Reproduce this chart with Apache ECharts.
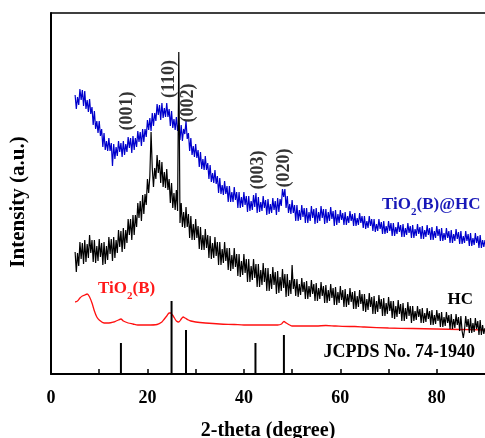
<!DOCTYPE html>
<html>
<head>
<meta charset="utf-8">
<script src="https://cdn.jsdelivr.net/npm/echarts@6/dist/echarts.min.js"></script>
<style>html,body{margin:0;padding:0;background:#fff;}#c{width:485px;height:438px;}</style>
</head>
<body>
<div id="c"></div>
<script>
// sampling grid of the measured patterns (2-theta, degree)
const thetaStart = 5;
const thetaStep = 0.25;

// TiO2(B)@HC (blue), intensity a.u., one value per 0.25 degree from 5 to 90
const tio2HcValues = [
279,265,277,269, 285,274,284,268, 283,265,274,262, 275,260,267,249, 263,245,253,241,
253,238,245,227, 241,224,233,223, 236,223,231,208, 230,215,227,218, 233,222,231,217,
233,219,230,222, 237,226,236,221, 238,224,236,227, 243,232,242,228, 245,232,245,237,
254,244,256,243, 261,248,261,253, 270,259,269,254, 271,256,266,257, 271,257,265,248,
263,246,255,244, 257,243,251,234, 249,233,245,240, 253,235,241,223, 236,219,228,217,
230,216,224,207, 222,205,215,204, 218,204,211,195, 209,192,201,191, 204,190,198,181,
196,180,189,179, 193,180,188,172, 188,172,182,172, 187,174,182,166, 182,166,177,167,
182,169,178,162, 178,163,173,164, 179,167,181,161, 177,162,172,163, 178,166,174,159,
175,160,170,161, 176,164,173,159, 176,162,175,168, 185,177,185,166, 178,161,170,160,
174,161,169,153, 169,153,164,154, 169,157,166,151, 166,151,162,153, 168,156,165,150,
166,151,162,153, 168,156,165,150, 165,151,162,153, 167,155,163,148, 164,149,160,151,
164,154,161,149, 162,149,158,151, 163,153,160,148, 161,148,156,149, 161,151,158,146,
158,145,153,146, 158,148,155,143, 155,142,150,143, 155,145,152,140, 153,140,148,141,
153,143,151,138, 151,138,147,140, 152,142,149,137, 150,137,146,139, 151,141,148,136,
149,136,145,138, 150,140,147,135, 148,135,144,137, 149,139,146,134, 147,134,143,136,
148,138,145,133, 146,133,141,134, 146,136,143,131, 144,131,140,133, 145,135,142,130,
143,130,138,131, 143,133,140,128, 141,128,136,129, 141,131,138,126, 139,126,134,127,
134
];

// HC (black), same sampling
const hcValues = [
122,102,121,108, 132,115,131,110, 134,112,130,116, 139,121,134,112, 134,111,128,113,
135,117,131,109, 132,110,128,114, 137,120,135,113, 137,116,134,121, 144,127,143,122,
146,125,144,131, 155,139,155,134, 159,139,159,147, 171,156,173,153, 179,160,180,169,
195,181,198,242, 206,187,206,195, 219,201,214,191, 212,187,202,186, 205,184,195,171,
191,166,181,164, 184,163,322,151, 171,147,162,146, 167,147,160,136, 158,134,150,134,
155,136,148,125, 147,124,139,124, 145,126,139,116, 138,115,131,116, 137,118,132,109,
132,109,125,111, 132,113,126,104, 126,103,119,105, 126,107,120,98, 120,97,113,99,
120,101,115,92, 115,92,108,94, 115,96,110,87, 110,87,104,89, 111,92,106,83,
106,83,100,85, 107,89,102,80, 103,81,97,83, 105,86,100,77, 100,78,94,80,
109,85,95,78, 95,77,90,79, 96,82,92,75, 93,75,88,77, 94,80,90,73,
91,73,86,75, 92,78,88,71, 89,71,84,73, 90,76,86,69, 87,69,82,71,
88,74,84,67, 85,67,80,69, 86,72,82,65, 83,65,78,67, 84,70,80,63,
80,62,75,64, 81,67,77,60, 78,60,73,62, 79,65,75,58, 76,58,71,60,
77,63,73,56, 73,55,68,57, 74,60,70,53, 71,53,66,55, 72,58,68,51,
68,53,63,54, 68,57,65,51, 66,51,61,52, 66,55,63,49, 64,49,59,50,
64,53,61,47, 62,47,57,48, 62,51,59,45, 60,45,55,46, 60,49,57,43,
58,43,36,44, 58,47,55,41, 56,41,51,42, 56,45,53,39, 54,39,49,40,
46
];

// TiO2(B) (red)
const tio2Theta = [5,5.5,6,6.5,7,7.5,8,8.5,9,9.5,10,11,12,13,13.5,14,14.5,15,16,17,18,20,22,23,23.5,24,24.5,24.8,25.2,25.6,26,26.5,27,27.4,27.8,28.5,29,30,32,35,38,40,42,45,47,47.8,48.3,48.8,49.5,50,53,55,57,59,62,63,65,70,75,80,85,90];
const tio2Values = [72,73,76,78,79,80,77,71,63,57,54,51,51,52,53,54,55,53,51,50,49,49,49.5,52,55,58,61,61,59,56,53,52,55,57,56,54,53,52,51,50,49.5,49,49,49,49,50,52.5,51,49,48,48,48,48.5,48,47.5,47.5,47,46,45.5,45,44.5,44];

// JCPDS No. 74-1940 reference sticks
const jcpdsTheta = [14.5, 25.0, 28.0, 42.4, 48.3];
const jcpdsHeight = [31, 73, 44, 31, 39];

// (hkl) annotations
const hklText = ['(001)', '(110)', '(002)', '(003)', '(020)'];
const hklTheta = [15.9, 24.6, 28.5, 43.0, 48.3];
const hklLevel = [263, 295, 271, 204, 206];

const xMin = 0, xMax = 90, xTickStep = 10, xLabelStep = 20;

const toPairs = (vals) => vals.map((v, i) => [thetaStart + i * thetaStep, v]);
const serif = '"Liberation Serif", "Times New Roman", serif';

const chart = echarts.init(document.getElementById('c'), null, {renderer: 'canvas'});
chart.setOption({
  animation: false,
  backgroundColor: '#fff',
  grid: {left: 51, right: 0, top: 13, bottom: 64, containLabel: false, outerBoundsMode: 'none'},
  xAxis: [{
    type: 'value', min: xMin, max: xMax, interval: xTickStep,
    name: '2-theta (degree)', nameLocation: 'middle', nameGap: 47,
    nameTextStyle: {fontFamily: serif, fontWeight: 'bold', fontSize: 20, color: '#000'},
    axisLine: {show: true, onZero: false, lineStyle: {color: '#000', width: 2}},
    axisTick: {show: true, inside: true, length: 5, lineStyle: {color: '#000', width: 1.5}},
    axisLabel: {
      fontFamily: serif, fontWeight: 'bold', fontSize: 18, color: '#000', margin: 15,
      showMaxLabel: false,
      formatter: (v) => (v % xLabelStep === 0 ? String(v) : '')
    },
    splitLine: {show: false}
  }, {
    type: 'value', position: 'top', min: xMin, max: xMax,
    axisLine: {show: true, onZero: false, lineStyle: {color: '#000', width: 1.5}},
    axisTick: {show: false}, axisLabel: {show: false}, splitLine: {show: false}
  }],
  yAxis: {
    type: 'value', min: 0, max: 361,
    axisLine: {show: true, onZero: false, lineStyle: {color: '#000', width: 2}},
    axisTick: {show: false}, axisLabel: {show: false}, splitLine: {show: false}
  },
  series: [
    {
      name: 'TiO2(B)@HC', type: 'line', data: toPairs(tio2HcValues), showSymbol: false, symbol: 'none',
      lineStyle: {color: '#0000cc', width: 1.2}, z: 2
    },
    {
      name: 'TiO2(B)', type: 'line', data: tio2Theta.map((t, i) => [t, tio2Values[i]]), showSymbol: false, symbol: 'none',
      smooth: 0.3, lineStyle: {color: '#ff1010', width: 1.3}, z: 3
    },
    {
      name: 'HC', type: 'line', data: toPairs(hcValues), showSymbol: false, symbol: 'none',
      lineStyle: {color: '#000', width: 1.2}, z: 4
    },
    {
      name: 'JCPDS', type: 'custom', z: 5,
      data: jcpdsTheta.map((t, i) => [t, jcpdsHeight[i]]),
      renderItem: (params, api) => {
        const p0 = api.coord([api.value(0), 0]);
        const p1 = api.coord([api.value(0), api.value(1)]);
        return {type: 'line', shape: {x1: p0[0], y1: p0[1], x2: p1[0], y2: p1[1]}, style: {stroke: '#000', lineWidth: 2}};
      }
    },
    {
      name: 'hkl', type: 'scatter', symbolSize: 1, itemStyle: {color: 'rgba(0,0,0,0)'}, z: 6,
      data: hklTheta.map((t, i) => ({value: [t, hklLevel[i]], name: hklText[i]})),
      label: {
        show: true, position: 'inside', rotate: 90, formatter: (p) => p.name,
        fontFamily: serif, fontWeight: 'bold', fontSize: 18, color: '#000'
      }
    }
  ],
  graphic: [
    {type: 'text', x: 19, y: 202, rotation: Math.PI / 2,
      style: {text: 'Intensity (a.u.)', font: 'bold 21px ' + serif, fill: '#000', align: 'center', verticalAlign: 'middle'}},
    {type: 'text', x: 382, y: 196,
      style: {text: '{a|TiO}{s|2}{a|(B)@HC}', fill: '#1818b8', align: 'left', verticalAlign: 'top',
        rich: {a: {font: 'bold 17px ' + serif, fill: '#1818b8', lineHeight: 22, verticalAlign: 'top'},
               s: {font: 'bold 11px ' + serif, fill: '#1818b8', lineHeight: 22, verticalAlign: 'bottom'}}}},
    {type: 'text', x: 473, y: 300,
      style: {text: 'HC', font: 'bold 17px ' + serif, fill: '#000', align: 'right', verticalAlign: 'middle'}},
    {type: 'text', x: 98, y: 280,
      style: {text: '{a|TiO}{s|2}{a|(B)}', fill: '#ff1a1a', align: 'left', verticalAlign: 'top',
        rich: {a: {font: 'bold 17px ' + serif, fill: '#ff1a1a', lineHeight: 22, verticalAlign: 'top'},
               s: {font: 'bold 11px ' + serif, fill: '#ff1a1a', lineHeight: 22, verticalAlign: 'bottom'}}}},
    {type: 'text', x: 475, y: 352,
      style: {text: 'JCPDS No. 74-1940', font: 'bold 18px ' + serif, fill: '#000', align: 'right', verticalAlign: 'middle'}}
  ]
});
</script>
</body>
</html>
